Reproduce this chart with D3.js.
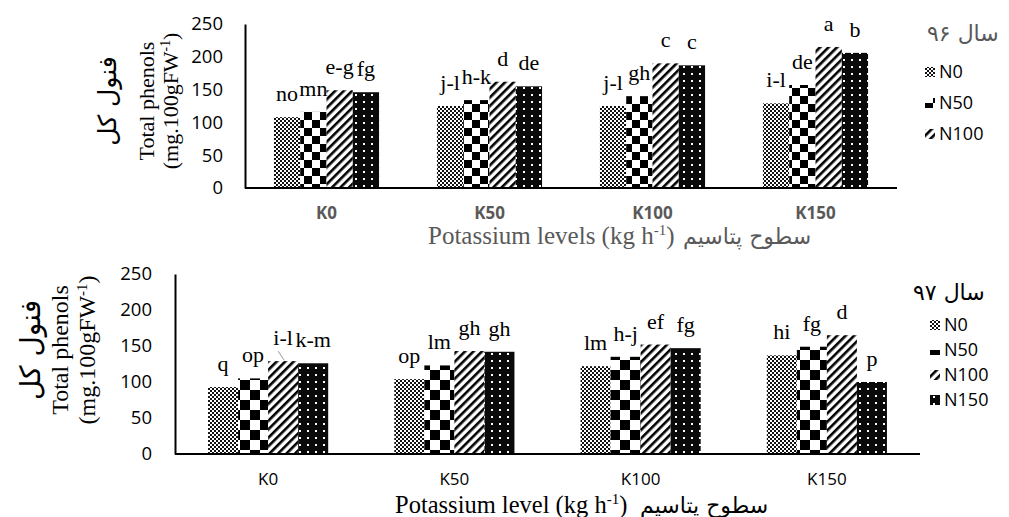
<!DOCTYPE html>
<html>
<head>
<meta charset="utf-8">
<script src="https://cdn.jsdelivr.net/npm/d3@7"></script>
<style>
  body { margin: 0; background: #fff; }
  .tick text { font-family: "Open Sans", sans-serif; }
  .letter { font-family: "Liberation Serif", "Times New Roman", serif; font-size: 22px; fill: #000; }
</style>
</head>
<body>
<script>
// potassium levels and nitrogen series
var categories = ["K0", "K50", "K100", "K150"];
var series = ["N0", "N50", "N100", "N150"];
var yTicks = [0, 50, 100, 150, 200, 250];

// year 96 (top chart)
var n0_96 = [108, 125, 125, 129];
var n50_96 = [116, 134, 140, 157];
var n100_96 = [149, 162, 190, 215];
var n150_96 = [146, 155, 187, 206];
var letters96 = [["no", "mn", "e-g", "fg"], ["j-l", "h-k", "d", "de"], ["j-l", "gh", "c", "c"], ["i-l", "de", "a", "b"]];
var legend96 = ["N0", "N50", "N100"];

// year 97 (bottom chart)
var n0_97 = [93, 104, 122, 137];
var n50_97 = [105, 123, 135, 149];
var n100_97 = [129, 143, 152, 165];
var n150_97 = [126, 142, 147, 100];
var letters97 = [["q", "op", "i-l", "k-m"], ["op", "lm", "gh", "gh"], ["lm", "h-j", "ef", "fg"], ["hi", "fg", "d", "p"]];
var legend97 = ["N0", "N50", "N100", "N150"];

var svg = d3.select("body").append("svg")
    .attr("width", 1009)
    .attr("height", 517);

var defs = svg.append("defs");

function makePatterns(key, cell) {
    // N0 fine checker
    var p0 = defs.append("pattern").attr("id", "p0" + key)
        .attr("patternUnits", "userSpaceOnUse").attr("width", 4).attr("height", 4);
    p0.append("rect").attr("width", 4).attr("height", 4).attr("fill", "#fff");
    p0.append("rect").attr("width", 2).attr("height", 2).attr("fill", "#111");
    p0.append("rect").attr("x", 2).attr("y", 2).attr("width", 2).attr("height", 2).attr("fill", "#111");

    // N50 large checker
    var p1 = defs.append("pattern").attr("id", "p1" + key)
        .attr("patternUnits", "userSpaceOnUse").attr("width", cell * 2).attr("height", cell * 2);
    p1.append("rect").attr("width", cell * 2).attr("height", cell * 2).attr("fill", "#fff");
    p1.append("rect").attr("width", cell).attr("height", cell).attr("fill", "#000");
    p1.append("rect").attr("x", cell).attr("y", cell).attr("width", cell).attr("height", cell).attr("fill", "#000");

    // N100 wide diagonal stripes
    var p2 = defs.append("pattern").attr("id", "p2" + key)
        .attr("patternUnits", "userSpaceOnUse").attr("width", 6).attr("height", 6)
        .attr("patternTransform", "rotate(45)");
    p2.append("rect").attr("width", 6).attr("height", 6).attr("fill", "#fff");
    p2.append("rect").attr("width", 2.6).attr("height", 6).attr("fill", "#000");

    // N150 black with white dots
    var p3 = defs.append("pattern").attr("id", "p3" + key)
        .attr("patternUnits", "userSpaceOnUse").attr("width", 8).attr("height", 7);
    p3.append("rect").attr("width", 8).attr("height", 7).attr("fill", "#0a0a0a");
    p3.append("rect").attr("x", 3).attr("y", 3).attr("width", 2).attr("height", 2).attr("fill", "#fff");
}
makePatterns("a", 8);
makePatterns("b", 10);

function drawChart(cfg) {
    var g = svg.append("g");

    var x = d3.scaleBand().domain(categories).range([cfg.left, cfg.right]).padding(0);
    var groupW = x.bandwidth() * 0.645;
    var xs = d3.scaleBand().domain(series).range([0, groupW]).padding(0);
    var y = d3.scaleLinear().domain([0, 250]).range([cfg.bottom, cfg.top]);

    var rows = [];
    categories.forEach(function (c, i) {
        series.forEach(function (s, j) {
            rows.push({ cat: c, ser: s, idx: j, value: cfg.values[j][i], letter: cfg.letters[i][j] });
        });
    });

    // y axis
    var yAxis = d3.axisLeft(y).tickValues(yTicks).tickSize(0).tickSizeOuter(0).tickPadding(cfg.tickPad);
    var ya = g.append("g")
        .attr("transform", "translate(" + cfg.left + ",0)")
        .call(yAxis);
    ya.select(".domain").attr("stroke", "#000").attr("stroke-width", 2);
    ya.selectAll(".tick text").attr("font-size", cfg.tickSize).attr("fill", "#000");

    // bars
    g.selectAll("rect.bar")
        .data(rows)
        .enter()
        .append("rect")
        .attr("class", "bar")
        .attr("x", d => x(d.cat) + (x.bandwidth() - groupW) / 2 + xs(d.ser))
        .attr("width", xs.bandwidth())
        .attr("y", d => y(d.value))
        .attr("height", d => y(0) - y(d.value))
        .attr("fill", d => "url(#p" + d.idx + cfg.key + ")");

    // significance letters
    g.selectAll("text.letter")
        .data(rows)
        .enter()
        .append("text")
        .attr("class", "letter")
        .attr("x", d => x(d.cat) + (x.bandwidth() - groupW) / 2 + xs(d.ser) + xs.bandwidth() / 2)
        .attr("y", d => y(d.value) - 16)
        .attr("text-anchor", "middle")
        .text(d => d.letter);

    // x baseline
    g.append("line")
        .attr("x1", cfg.left).attr("x2", cfg.right)
        .attr("y1", y(0)).attr("y2", y(0))
        .attr("stroke", "#000").attr("stroke-width", 2);

    // category labels
    g.selectAll("text.cat")
        .data(categories)
        .enter()
        .append("text")
        .attr("class", "cat")
        .attr("x", d => x(d) + x.bandwidth() / 2)
        .attr("y", cfg.catY)
        .attr("text-anchor", "middle")
        .attr("font-family", "Open Sans, sans-serif")
        .attr("font-size", cfg.catSize)
        .attr("font-weight", cfg.catWeight)
        .attr("fill", cfg.catColor)
        .text(d => d);

    // y titles
    var mid = cfg.titleMid;
    g.append("text")
        .attr("transform", "translate(" + cfg.faX + "," + mid + ") rotate(-90)")
        .attr("text-anchor", "middle")
        .attr("font-family", "DejaVu Sans, sans-serif")
        .attr("font-size", cfg.faSize)
        .attr("fill", "#000")
        .text("فنول کل");
    g.append("text")
        .attr("transform", "translate(" + cfg.t1X + "," + mid + ") rotate(-90)")
        .attr("text-anchor", "middle")
        .attr("font-family", "Liberation Serif, serif")
        .attr("font-size", cfg.ytSize)
        .attr("fill", "#000")
        .text("Total phenols");
    var t2 = g.append("text")
        .attr("transform", "translate(" + cfg.t2X + "," + mid + ") rotate(-90)")
        .attr("text-anchor", "middle")
        .attr("font-family", "Liberation Serif, serif")
        .attr("font-size", cfg.ytSize)
        .attr("fill", "#000");
    t2.append("tspan").text("(mg.100gFW");
    t2.append("tspan").attr("font-size", cfg.ytSize * 0.62).attr("dy", -8).text("-1");
    t2.append("tspan").attr("dy", 8).text(")");

    // x title
    var xt = g.append("text")
        .attr("x", cfg.xtX)
        .attr("y", cfg.xtY)
        .attr("font-family", "Liberation Serif, serif")
        .attr("font-size", cfg.xtSize)
        .attr("fill", cfg.xtColor);
    xt.append("tspan").text(cfg.xtText + " (kg h");
    xt.append("tspan").attr("font-size", 15).attr("dy", -9).text("-1");
    xt.append("tspan").attr("dy", 9).text(")");
    g.append("text")
        .attr("x", cfg.faXX)
        .attr("y", cfg.xtY)
        .attr("font-family", "DejaVu Sans, sans-serif")
        .attr("font-size", 22)
        .attr("fill", cfg.xtColor)
        .text("سطوح پتاسیم");

    // legend
    var lg = g.append("g");
    lg.append("text")
        .attr("x", cfg.lgTitleX)
        .attr("y", cfg.lgTitleY)
        .attr("font-family", "DejaVu Sans, sans-serif")
        .attr("font-size", 22)
        .attr("fill", cfg.lgTitleColor)
        .text(cfg.lgTitle);
    var items = lg.selectAll("g.item")
        .data(cfg.legend)
        .enter()
        .append("g")
        .attr("class", "item")
        .attr("transform", (d, i) => "translate(" + cfg.lgX + "," + (cfg.lgY + i * cfg.lgStep) + ")");
    items.append("rect")
        .attr("x", 0).attr("y", -5)
        .attr("width", 10).attr("height", 10)
        .attr("fill", d => "url(#p" + series.indexOf(d) + cfg.key + ")");
    items.append("text")
        .attr("x", 14)
        .attr("y", 6)
        .attr("font-family", "Open Sans, sans-serif")
        .attr("font-size", 18)
        .attr("fill", "#000")
        .text(d => d);

    return { x: x, xs: xs, y: y, groupW: groupW };
}

drawChart({
    key: "a", left: 245, right: 897, top: 24, bottom: 188,
    values: [n0_96, n50_96, n100_96, n150_96], letters: letters96,
    tickPad: 22, tickSize: 18.5,
    catY: 219, catSize: 17, catWeight: "bold", catColor: "#595959",
    titleMid: 101, faSize: 25, ytSize: 22,
    faX: 116, t1X: 154, t2X: 178,
    xtX: 428, xtY: 244, xtSize: 25, xtText: "Potassium levels", xtColor: "#595959", faXX: 683,
    lgTitle: "سال ۹۶", lgTitleX: 927, lgTitleY: 41, lgTitleColor: "#595959",
    legend: legend96, lgX: 925, lgY: 72, lgStep: 31
});

var c2 = drawChart({
    key: "b", left: 175, right: 920, top: 274, bottom: 454,
    values: [n0_97, n50_97, n100_97, n150_97], letters: letters97,
    tickPad: 23, tickSize: 18.5,
    catY: 485, catSize: 17, catWeight: "normal", catColor: "#000",
    titleMid: 350, faSize: 28, ytSize: 24,
    faX: 40, t1X: 68, t2X: 95,
    xtX: 395, xtY: 513, xtSize: 24.5, xtText: "Potassium level", xtColor: "#000", faXX: 640,
    lgTitle: "سال ۹۷", lgTitleX: 913, lgTitleY: 300, lgTitleColor: "#000",
    legend: legend97, lgX: 930, lgY: 325, lgStep: 25
});

// small leader line from the "i-l" letter to its bar (K0, N100, year 97)
var bx = c2.x("K0") + (c2.x.bandwidth() - c2.groupW) / 2 + c2.xs("N100");
svg.append("line")
    .attr("x1", bx + 10).attr("y1", c2.y(n100_97[0]) - 10)
    .attr("x2", bx + 16).attr("y2", c2.y(n100_97[0]) - 1)
    .attr("stroke", "#999").attr("stroke-width", 1);
</script>
</body>
</html>
